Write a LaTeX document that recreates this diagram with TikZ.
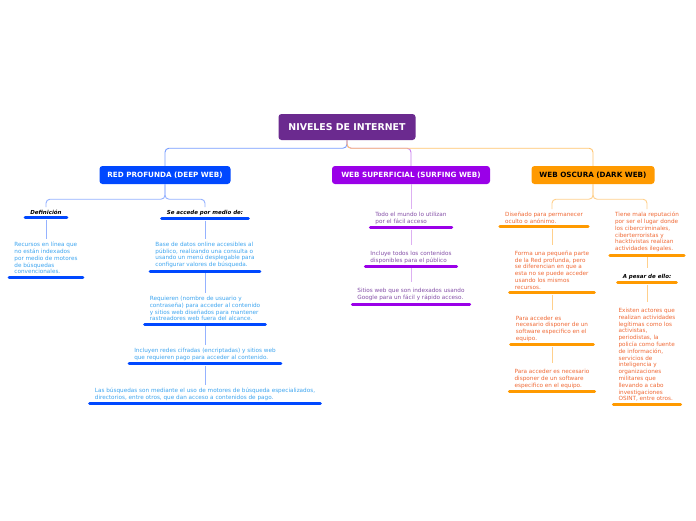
\documentclass[tikz,border=0pt]{standalone}
\usepackage{fontspec}
\setmainfont{DejaVu Sans}
\usetikzlibrary{positioning}
\definecolor{rootpurple}{HTML}{6B2A8F}
\definecolor{deepblue}{HTML}{0048FF}
\definecolor{deeptext}{HTML}{3FA6F0}
\definecolor{deepline}{HTML}{95B2FF}
\definecolor{surfpurple}{HTML}{9A00E8}
\definecolor{surftext}{HTML}{8550A8}
\definecolor{surfline}{HTML}{DDB0F2}
\definecolor{darkorange}{HTML}{FF9A00}
\definecolor{darktext}{HTML}{F06A36}
\definecolor{darkline}{HTML}{FFD08C}
\begin{document}
\begin{tikzpicture}[x=1pt,y=1pt,
  branch/.style={rounded corners=3pt,text=white,minimum height=18pt,inner xsep=6pt,
    font=\fontsize{7.2}{8}\selectfont\bfseries},
  topic/.style={anchor=north,align=left,inner xsep=5pt,inner ysep=3pt,
    font=\fontsize{5.7}{6.8}\selectfont},
  subhead/.style={anchor=north,inner xsep=5pt,inner ysep=3pt,text=black,
    font=\fontsize{5.5}{6.5}\selectfont\bfseries\itshape},
  bar/.style={line width=3pt,line cap=round},
  link/.style={line width=0.9pt,rounded corners=4pt}]
\useasboundingbox (0,0) rectangle (696,-520);
\fill[white] (0,0) rectangle (696,-520);
% main topic and branches
\node[branch,fill=rootpurple,minimum width=137pt,minimum height=26pt,
  font=\fontsize{9.4}{10}\selectfont\bfseries] (root) at (347,-127) {NIVELES DE INTERNET};
\node[branch,fill=deepblue,minimum width=131pt] (deep) at (165,-175) {RED PROFUNDA (DEEP WEB)};
\node[branch,fill=surfpurple,minimum width=158pt] (surf) at (411,-175) {WEB SUPERFICIAL (SURFING WEB)};
\node[branch,fill=darkorange,minimum width=123pt,text=black] (dark) at (593,-175) {WEB OSCURA (DARK WEB)};
\draw[link,deepline!80!deepblue] (root.south) -- ++(0,-8) -| (deep.north);
\draw[link,surfline!70!surfpurple] (root.south) -- ++(0,-8) -| (surf.north);
\draw[link,darkline!80!darkorange] (root.south) -- ++(0,-8) -| (dark.north);
% red profunda
\node[subhead] (def) at (46,-207) {Definición};
\node[subhead] (acc) at (205,-207) {Se accede por medio de:};
\node[topic,text=deeptext,below=21pt of def] (d1) {Recursos en línea que\\no están indexados\\por medio de motores\\de búsquedas\\convencionales.};
\node[topic,text=deeptext,below=20pt of acc] (a1) {Base de datos online accesibles al\\público, realizando una consulta o\\usando un menú desplegable para\\configurar valores de búsqueda.};
\node[topic,text=deeptext,below=22pt of a1] (a2) {Requieren (nombre de usuario y\\contraseña) para acceder al contenido\\y sitios web diseñados para mantener\\rastreadores web fuera del alcance.};
\node[topic,text=deeptext,below=21pt of a2] (a3) {Incluyen redes cifradas (encriptadas) y sitios web\\que requieren pago para acceder al contenido.};
\node[topic,text=deeptext,below=21pt of a3] (a4) {Las búsquedas son mediante el uso de motores de búsqueda especializados,\\directorios, entre otros, que dan acceso a contenidos de pago.};
\draw[link,deepline] (deep.south) -- ++(0,-15) -| (def.north);
\draw[link,deepline] (deep.south) -- ++(0,-15) -| (acc.north);
\draw[link,deepline,shorten <=2pt] (def.south) -- (d1.north);
\foreach \a/\b in {acc/a1,a1/a2,a2/a3,a3/a4}
  \draw[link,deepline,shorten <=2pt] (\a.south) -- (\b.north);
\foreach \n in {def,acc,d1,a1,a2,a3,a4}
  \draw[bar,deepblue] (\n.south west) -- (\n.south east);
% web superficial
\node[topic,text=surftext] (s1) at (411,-209) {Todo el mundo lo utilizan\\por el fácil acceso};
\node[topic,text=surftext,below=20pt of s1] (s2) {Incluye todos los contenidos\\disponibles para el público};
\node[topic,text=surftext,below=19pt of s2] (s3) {Sitios web que son indexados usando\\Google para un fácil y rápido acceso.};
\draw[link,surfline] (surf.south) -- (s1.north);
\foreach \a/\b in {s1/s2,s2/s3}
  \draw[link,surfline,shorten <=2pt,shorten >=3pt] (\a.south) -- (\b.north);
\foreach \n in {s1,s2,s3}
  \draw[bar,surfpurple] (\n.south west) -- (\n.south east);
% web oscura
\node[topic,text=darktext] (k1) at (544,-209) {Diseñado para permanecer\\oculto o anónimo.};
\node[topic,text=darktext,below=21pt of k1,xshift=8pt] (k2) {Forma una pequeña parte\\de la Red profunda, pero\\se diferencian en que a\\esta no se puede acceder\\usando los mismos\\recursos.};
\node[topic,text=darktext,below=20pt of k2] (k3) {Para acceder es\\necesario disponer de un\\software especifico en el\\equipo.};
\node[topic,text=darktext,below=21pt of k3] (k4) {Para acceder es necesario\\disponer de un software\\especifico en el equipo.};
\node[topic,text=darktext] (r1) at (647,-209) {Tiene mala reputación\\por ser el lugar donde\\los cibercriminales,\\ciberterroristas y\\hacktivistas realizan\\actividades ilegales.};
\node[subhead,below=16pt of r1] (r2) {A pesar de ello:};
\node[topic,text=darktext,below=22pt of r2] (r3) {Existen actores que\\realizan actividades\\legítimas como los\\activistas,\\periodistas, la\\policía como fuente\\de información,\\servicios de\\inteligencia y\\organizaciones\\militares que\\llevando a cabo\\investigaciones\\OSINT, entre otros.};
\draw[link,darkline] (dark.south) -- ++(0,-15) -| ([xshift=8pt]k1.north);
\draw[link,darkline] (dark.south) -- ++(0,-15) -| (r1.north);
\draw[link,darkline,shorten <=2pt,shorten >=3pt] (k1.south -| k2.north) -- (k2.north);
\foreach \a/\b in {k2/k3,k3/k4,r1/r2,r2/r3}
  \draw[link,darkline,shorten <=2pt,shorten >=3pt] (\a.south) -- (\b.north);
\foreach \n in {k1,k2,k3,k4,r1,r2,r3}
  \draw[bar,darkorange] (\n.south west) -- (\n.south east);
\end{tikzpicture}
\end{document}
